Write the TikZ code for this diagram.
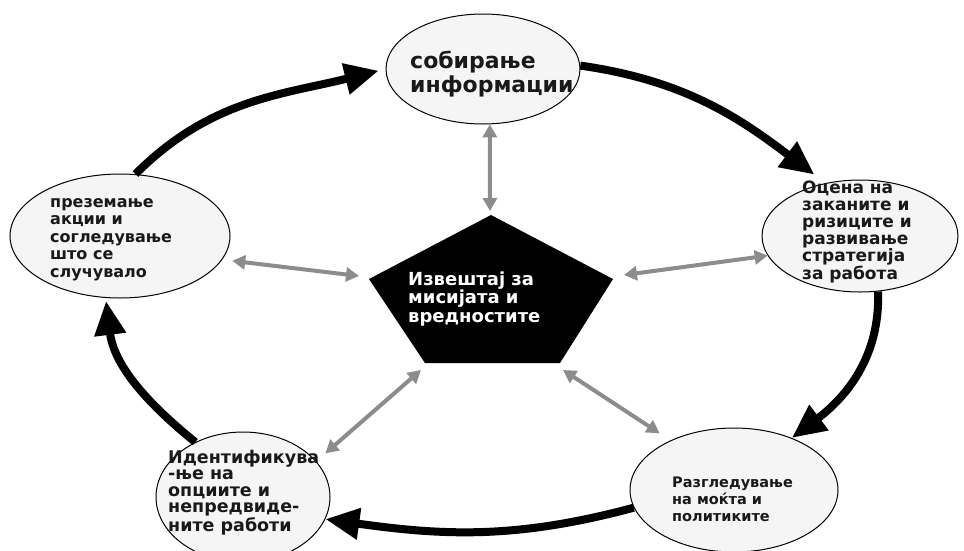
\documentclass[tikz,border=0pt]{standalone}
\usepackage{fontspec}
\setmainfont{DejaVu Sans}
\usetikzlibrary{arrows.meta,shapes.geometric}
\newcommand{\mylines}[1]{\vtop{\halign{##\hfil\cr#1\crcr}}}
\begin{document}
\begin{tikzpicture}[x=1pt,y=-1pt,
  ell/.style={draw=black, line width=1pt, fill=black!4, ellipse, inner sep=0pt},
  txt/.style={anchor=base west, inner sep=0pt, font=\bfseries\fontsize{16}{17.3}\selectfont, text=black!90},
  cyc/.style={draw=black, line width=8pt, -{Triangle[length=34pt,width=30pt]}},
  link/.style={draw=black!45, line width=4pt, {Triangle[length=13pt,width=14pt]}-{Triangle[length=13pt,width=14pt]}}]
\useasboundingbox (0,0) rectangle (964,550);
\clip (0,0) rectangle (964,550);

% ellipses
\node[ell, minimum width=194pt, minimum height=110pt] (T) at (483,69) {};
\node[ell, minimum width=196pt, minimum height=112pt] (R) at (860,236) {};
\node[ell, minimum width=220pt, minimum height=124pt] (L) at (120,236) {};
\node[ell, minimum width=174pt, minimum height=130pt] (BL) at (243,497) {};
\node[ell, minimum width=208pt, minimum height=124pt] (BR) at (734,490) {};

% pentagon
\coordinate (P1) at (491,215);
\coordinate (P2) at (613,279);
\coordinate (P3) at (560,363);
\coordinate (P4) at (425,363);
\coordinate (P5) at (369,279);
\fill[black] (P1) -- (P2) -- (P3) -- (P4) -- (P5) -- cycle;

% texts
\node[txt, font=\bfseries\fontsize{22}{24}\selectfont] (tT) at (410,68) {\mylines{собирање\cr информации}};
\node[txt, font=\bfseries\fontsize{17}{17}\selectfont] (tR) at (802,193) {\mylines{Оцена на\cr заканите и\cr ризиците и\cr развивање\cr стратегија\cr за работа}};
\node[txt, font=\bfseries\fontsize{16}{17.6}\selectfont] (tL) at (50,207) {\mylines{преземање\cr акции и\cr согледување\cr што се\cr случувало}};
\node[txt, font=\bfseries\fontsize{17.5}{16.5}\selectfont] (tBL) at (168,463) {\mylines{Идентификува\cr -ње на\cr опциите и\cr непредвиде-\cr ните работи}};
\node[txt, font=\bfseries\fontsize{14.5}{17}\selectfont] (tBR) at (672,487) {\mylines{Разгледување\cr на моќта и\cr политиките}};
\node[txt, text=white, font=\bfseries\fontsize{18}{18.5}\selectfont] (tP) at (408,285) {\mylines{Извештај за\cr мисијата и\cr вредностите}};

% gray links to the centre
\coordinate (pT) at (490,211);
\coordinate (pL) at (359,276);
\coordinate (pR) at (624,275);
\coordinate (pBL) at (421,370);
\coordinate (pBR) at (563,370);
\draw[link] (T.-83) -- (pT);
\draw[link, shorten <=10pt] (L.-13) -- (pL);
\draw[link] (R.-168) -- (pR);
\draw[link, shorten <=12pt] (BL.26) -- (pBL);
\draw[link, shorten <=13pt] (BR.142) -- (pBR);

% black cycle
\draw[cyc, shorten >=14pt] (T.2) to[out=-8,in=143] (R.123);
\draw[cyc] (R.-72) to[out=-88,in=37] (BR.42);
\draw[cyc] (BR.190) to[out=195,in=-8] (BL.-15);
\draw[cyc, shorten >=3pt] (BL.131) to[out=141,in=-83] (L.-103);
\draw[cyc, shorten >=7pt] (L.76) to[out=45,in=-166] (T.180);
\end{tikzpicture}
\end{document}
